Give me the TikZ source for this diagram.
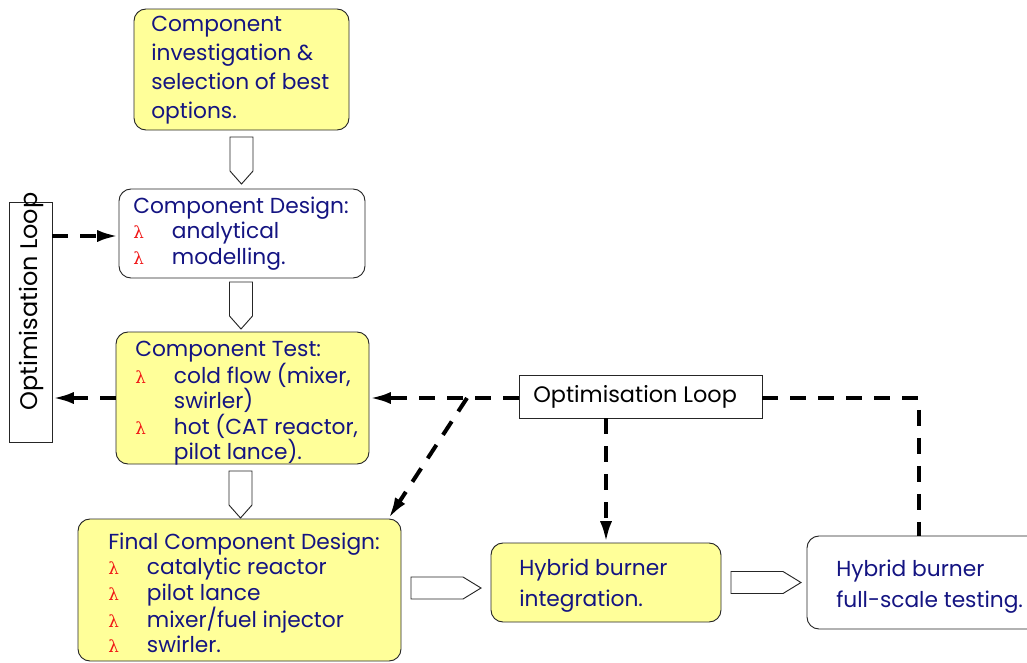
\documentclass[tikz,border=0pt]{standalone}
\usepackage{fontspec}
\setmainfont{Poppins}
\newfontfamily\bulletfont{DejaVu Serif}
\usetikzlibrary{arrows.meta,fit}
\definecolor{boxyellow}{RGB}{255,255,153}
\definecolor{navytext}{RGB}{20,20,130}
\definecolor{bulletred}{RGB}{240,20,20}
% list bullet and hanging indent for continuation lines
\newcommand{\lam}{\makebox[29pt][l]{\textcolor{bulletred}{\bulletfont\fontsize{12.5}{12.5}\selectfont λ}}}
\newcommand{\cont}{\hspace*{29pt}}
\begin{document}
\begin{tikzpicture}[x=0.75pt,y=-0.75pt,
  box/.style={draw=black!85,line width=0.7pt,rounded corners=9pt,inner sep=0pt},
  ybox/.style={box,fill=boxyellow},
  wbox/.style={box,fill=white},
  sqbox/.style={draw=black!85,line width=0.7pt,fill=white,inner sep=0pt},
  txt/.style={anchor=west,align=left,inner sep=0pt,text=navytext,font=\fontsize{16.3}{18.9}\selectfont},
  looptxt/.style={inner sep=0pt,text=black,font=\fontsize{16.8}{18}\selectfont},
  dasharrow/.style={line width=3pt,dash pattern=on 12pt off 9pt,-{Latex[length=16pt,width=9pt]}},
  dashline/.style={line width=3pt,dash pattern=on 12pt off 9pt},
  blk/.style={draw=black!85,line width=0.7pt,fill=white},
  downblk/.pic={\path[blk] (-11.5,0) -- (11.5,0) -- (11.5,34) -- (0,47) -- (-11.5,34) -- cycle;},
  rightblk/.pic={\path[blk] (0,-11) -- (52,-11) -- (70,0) -- (52,11) -- (0,11) -- cycle;}
]
\useasboundingbox (0,0) rectangle (1027,662);

% process boxes
\node[ybox,fit={(134,9) (349,130)}] (A) {};
\node[wbox,fit={(119,189) (365,278)}] (B) {};
\node[ybox,fit={(116,332) (369,464)}] (C) {};
\node[ybox,fit={(78,519) (401,661)}] (D) {};
\node[ybox,fit={(491,543) (721,622)}] (E) {};
\node[wbox,fit={(807,536) (1040,629)}] (F) {};

% optimisation loop labels
\node[sqbox,fit={(9,202) (52,442)}] (LB) {};
\node[looptxt,rotate=90,font=\fontsize{18}{19}\selectfont] (LBt) at (31,301.5) {Optimisation Loop};
\node[sqbox,fit={(519,375) (762,418)}] (RL) {};
\node[looptxt,anchor=west] (RLt) at (533,396.5) {Optimisation Loop};

% box texts
\node[txt,font=\fontsize{16.3}{21.75}\selectfont] (At) at (151,70)
  {Component\\investigation \&\\selection of best\\options.};
\node[txt] (Bt) at (133,233.5)
  {Component Design:\\\lam analytical\\\lam modelling.};
\node[txt] (Ct) at (135,403)
  {Component Test:\\\lam cold flow (mixer,\\\cont swirler)\\\lam hot (CAT reactor,\\\cont pilot lance).};
\node[txt] (Dt) at (108,593)
  {Final Component Design:\\\lam catalytic reactor\\\lam pilot lance\\\lam mixer/fuel injector\\\lam swirler.};
\node[txt,font=\fontsize{16.3}{23.25}\selectfont] (Et) at (519,585.5)
  {Hybrid burner\\integration.};
\node[txt,font=\fontsize{16.3}{23.25}\selectfont] (Ft) at (836,586.5)
  {Hybrid burner\\full-scale testing.};

% flow arrows
\pic at (241.5,137) {downblk};
\pic at (241,282) {downblk};
\pic at (240.5,471) {downblk};
\pic at (411,588) {rightblk};
\pic at (731,582.5) {rightblk};

% feedback loops
\coordinate (J) at (467,398);
\draw[dasharrow] (LB.east |- 0,236) -- (B.west |- 0,236);
\draw[dasharrow] (C.west |- 0,398) -- (LB.east |- 0,398);
\draw[dasharrow] (RL.west |- J) -- (C.east |- J);
\draw[dasharrow] (J) -- ([xshift=-9.75pt]D.north east);
\draw[dasharrow] (E.north |- RL.south) -- (E.north);
\draw[dashline] (RL.east |- J) -| ([xshift=-3.75pt]F.north);
\end{tikzpicture}
\end{document}
